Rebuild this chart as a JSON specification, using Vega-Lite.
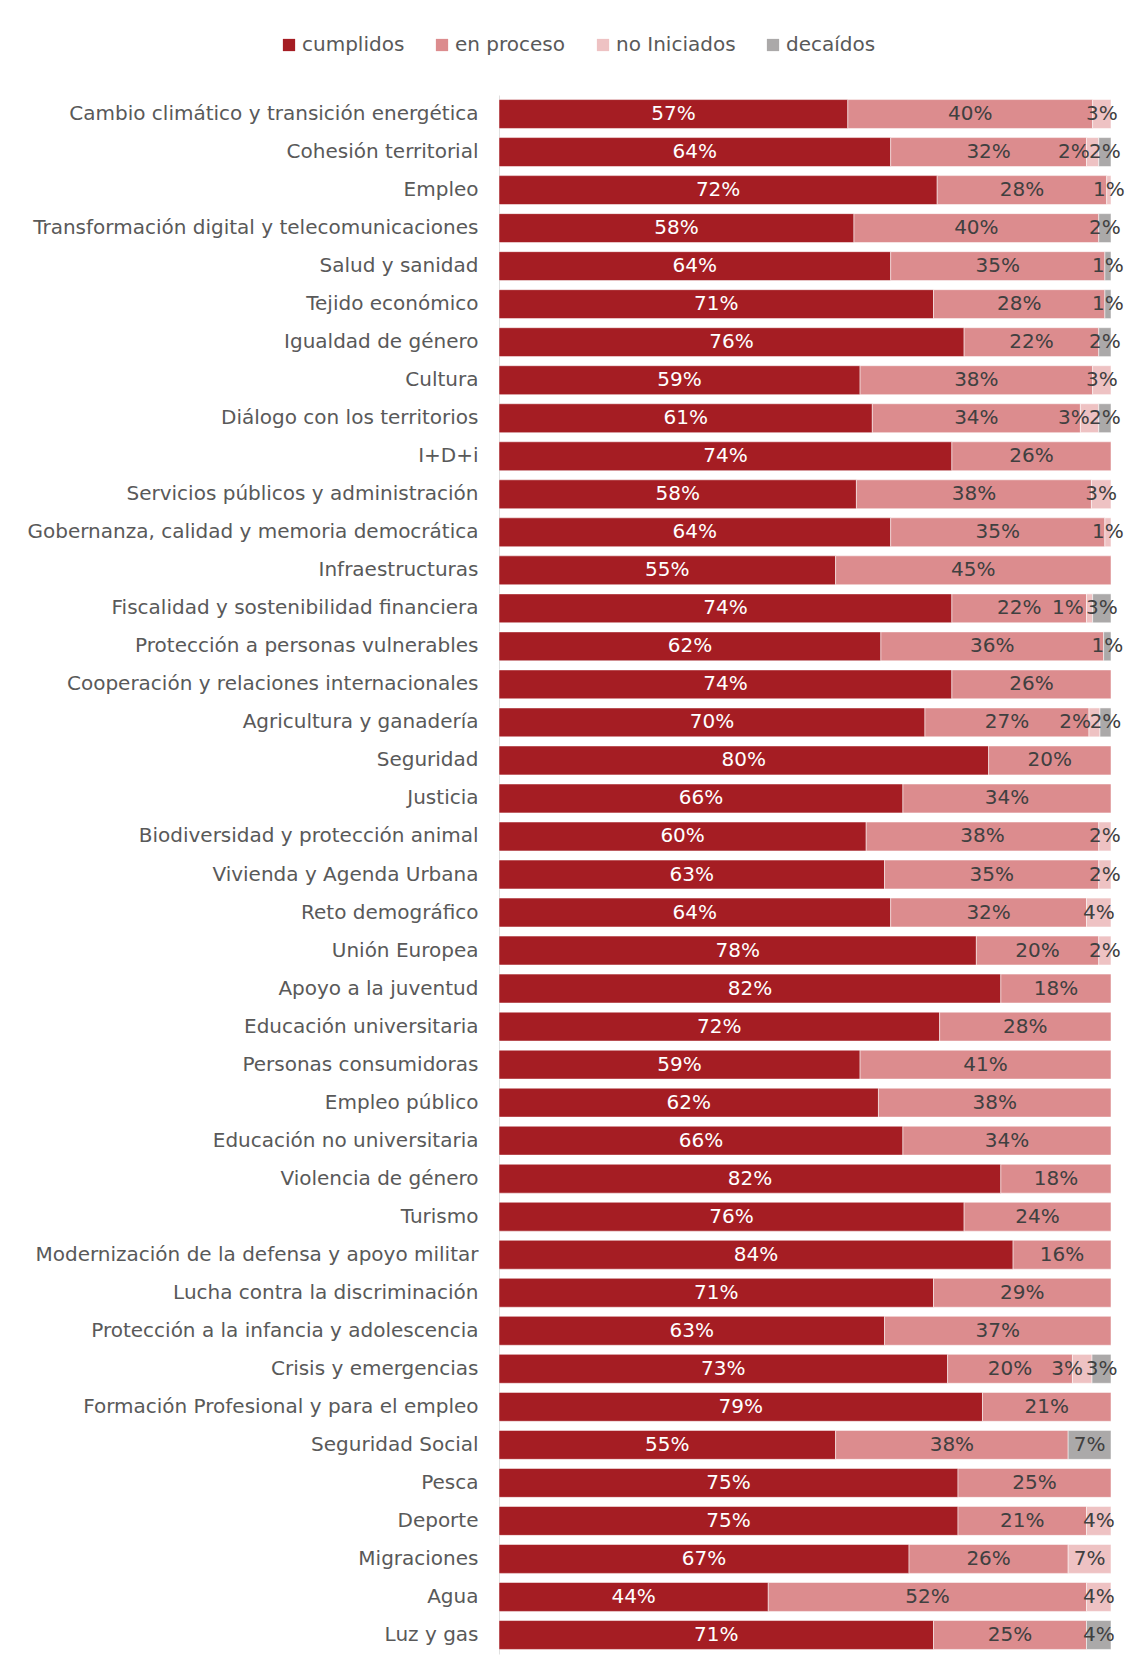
{
  "$schema": "https://vega.github.io/schema/vega-lite/v6.json",
  "autosize": {"type": "none"},
  "padding": {"left": 499, "top": 95, "right": 23, "bottom": 23},
  "width": 612,
  "height": 1559,
  "background": "white",
  "config": {
    "view": {"stroke": null},
    "font": "DejaVu Sans"
  },
  "data": {"values": [
    {"tema":"Cambio climático y transición energética","estado":"cumplidos","valor":0.57,"orden":1},
    {"tema":"Cambio climático y transición energética","estado":"en proceso","valor":0.40,"orden":2},
    {"tema":"Cambio climático y transición energética","estado":"no Iniciados","valor":0.03,"orden":3},
    {"tema":"Cohesión territorial","estado":"cumplidos","valor":0.64,"orden":1},
    {"tema":"Cohesión territorial","estado":"en proceso","valor":0.32,"orden":2},
    {"tema":"Cohesión territorial","estado":"no Iniciados","valor":0.02,"orden":3},
    {"tema":"Cohesión territorial","estado":"decaídos","valor":0.02,"orden":4},
    {"tema":"Empleo","estado":"cumplidos","valor":0.716,"orden":1},
    {"tema":"Empleo","estado":"en proceso","valor":0.277,"orden":2},
    {"tema":"Empleo","estado":"no Iniciados","valor":0.007,"orden":3},
    {"tema":"Transformación digital y telecomunicaciones","estado":"cumplidos","valor":0.58,"orden":1},
    {"tema":"Transformación digital y telecomunicaciones","estado":"en proceso","valor":0.40,"orden":2},
    {"tema":"Transformación digital y telecomunicaciones","estado":"decaídos","valor":0.02,"orden":4},
    {"tema":"Salud y sanidad","estado":"cumplidos","valor":0.64,"orden":1},
    {"tema":"Salud y sanidad","estado":"en proceso","valor":0.35,"orden":2},
    {"tema":"Salud y sanidad","estado":"decaídos","valor":0.01,"orden":4},
    {"tema":"Tejido económico","estado":"cumplidos","valor":0.71,"orden":1},
    {"tema":"Tejido económico","estado":"en proceso","valor":0.28,"orden":2},
    {"tema":"Tejido económico","estado":"decaídos","valor":0.01,"orden":4},
    {"tema":"Igualdad de género","estado":"cumplidos","valor":0.76,"orden":1},
    {"tema":"Igualdad de género","estado":"en proceso","valor":0.22,"orden":2},
    {"tema":"Igualdad de género","estado":"decaídos","valor":0.02,"orden":4},
    {"tema":"Cultura","estado":"cumplidos","valor":0.59,"orden":1},
    {"tema":"Cultura","estado":"en proceso","valor":0.38,"orden":2},
    {"tema":"Cultura","estado":"no Iniciados","valor":0.03,"orden":3},
    {"tema":"Diálogo con los territorios","estado":"cumplidos","valor":0.61,"orden":1},
    {"tema":"Diálogo con los territorios","estado":"en proceso","valor":0.34,"orden":2},
    {"tema":"Diálogo con los territorios","estado":"no Iniciados","valor":0.03,"orden":3},
    {"tema":"Diálogo con los territorios","estado":"decaídos","valor":0.02,"orden":4},
    {"tema":"I+D+i","estado":"cumplidos","valor":0.74,"orden":1},
    {"tema":"I+D+i","estado":"en proceso","valor":0.26,"orden":2},
    {"tema":"Servicios públicos y administración","estado":"cumplidos","valor":0.584,"orden":1},
    {"tema":"Servicios públicos y administración","estado":"en proceso","valor":0.384,"orden":2},
    {"tema":"Servicios públicos y administración","estado":"no Iniciados","valor":0.032,"orden":3},
    {"tema":"Gobernanza, calidad y memoria democrática","estado":"cumplidos","valor":0.64,"orden":1},
    {"tema":"Gobernanza, calidad y memoria democrática","estado":"en proceso","valor":0.35,"orden":2},
    {"tema":"Gobernanza, calidad y memoria democrática","estado":"no Iniciados","valor":0.01,"orden":3},
    {"tema":"Infraestructuras","estado":"cumplidos","valor":0.55,"orden":1},
    {"tema":"Infraestructuras","estado":"en proceso","valor":0.45,"orden":2},
    {"tema":"Fiscalidad y sostenibilidad financiera","estado":"cumplidos","valor":0.74,"orden":1},
    {"tema":"Fiscalidad y sostenibilidad financiera","estado":"en proceso","valor":0.22,"orden":2},
    {"tema":"Fiscalidad y sostenibilidad financiera","estado":"no Iniciados","valor":0.01,"orden":3},
    {"tema":"Fiscalidad y sostenibilidad financiera","estado":"decaídos","valor":0.03,"orden":4},
    {"tema":"Protección a personas vulnerables","estado":"cumplidos","valor":0.624,"orden":1},
    {"tema":"Protección a personas vulnerables","estado":"en proceso","valor":0.364,"orden":2},
    {"tema":"Protección a personas vulnerables","estado":"decaídos","valor":0.012,"orden":4},
    {"tema":"Cooperación y relaciones internacionales","estado":"cumplidos","valor":0.74,"orden":1},
    {"tema":"Cooperación y relaciones internacionales","estado":"en proceso","valor":0.26,"orden":2},
    {"tema":"Agricultura y ganadería","estado":"cumplidos","valor":0.696,"orden":1},
    {"tema":"Agricultura y ganadería","estado":"en proceso","valor":0.268,"orden":2},
    {"tema":"Agricultura y ganadería","estado":"no Iniciados","valor":0.018,"orden":3},
    {"tema":"Agricultura y ganadería","estado":"decaídos","valor":0.018,"orden":4},
    {"tema":"Seguridad","estado":"cumplidos","valor":0.80,"orden":1},
    {"tema":"Seguridad","estado":"en proceso","valor":0.20,"orden":2},
    {"tema":"Justicia","estado":"cumplidos","valor":0.66,"orden":1},
    {"tema":"Justicia","estado":"en proceso","valor":0.34,"orden":2},
    {"tema":"Biodiversidad y protección animal","estado":"cumplidos","valor":0.60,"orden":1},
    {"tema":"Biodiversidad y protección animal","estado":"en proceso","valor":0.38,"orden":2},
    {"tema":"Biodiversidad y protección animal","estado":"no Iniciados","valor":0.02,"orden":3},
    {"tema":"Vivienda y Agenda Urbana","estado":"cumplidos","valor":0.63,"orden":1},
    {"tema":"Vivienda y Agenda Urbana","estado":"en proceso","valor":0.35,"orden":2},
    {"tema":"Vivienda y Agenda Urbana","estado":"no Iniciados","valor":0.02,"orden":3},
    {"tema":"Reto demográfico","estado":"cumplidos","valor":0.64,"orden":1},
    {"tema":"Reto demográfico","estado":"en proceso","valor":0.32,"orden":2},
    {"tema":"Reto demográfico","estado":"no Iniciados","valor":0.04,"orden":3},
    {"tema":"Unión Europea","estado":"cumplidos","valor":0.78,"orden":1},
    {"tema":"Unión Europea","estado":"en proceso","valor":0.20,"orden":2},
    {"tema":"Unión Europea","estado":"no Iniciados","valor":0.02,"orden":3},
    {"tema":"Apoyo a la juventud","estado":"cumplidos","valor":0.82,"orden":1},
    {"tema":"Apoyo a la juventud","estado":"en proceso","valor":0.18,"orden":2},
    {"tema":"Educación universitaria","estado":"cumplidos","valor":0.72,"orden":1},
    {"tema":"Educación universitaria","estado":"en proceso","valor":0.28,"orden":2},
    {"tema":"Personas consumidoras","estado":"cumplidos","valor":0.59,"orden":1},
    {"tema":"Personas consumidoras","estado":"en proceso","valor":0.41,"orden":2},
    {"tema":"Empleo público","estado":"cumplidos","valor":0.62,"orden":1},
    {"tema":"Empleo público","estado":"en proceso","valor":0.38,"orden":2},
    {"tema":"Educación no universitaria","estado":"cumplidos","valor":0.66,"orden":1},
    {"tema":"Educación no universitaria","estado":"en proceso","valor":0.34,"orden":2},
    {"tema":"Violencia de género","estado":"cumplidos","valor":0.82,"orden":1},
    {"tema":"Violencia de género","estado":"en proceso","valor":0.18,"orden":2},
    {"tema":"Turismo","estado":"cumplidos","valor":0.76,"orden":1},
    {"tema":"Turismo","estado":"en proceso","valor":0.24,"orden":2},
    {"tema":"Modernización de la defensa y apoyo militar","estado":"cumplidos","valor":0.84,"orden":1},
    {"tema":"Modernización de la defensa y apoyo militar","estado":"en proceso","valor":0.16,"orden":2},
    {"tema":"Lucha contra la discriminación","estado":"cumplidos","valor":0.71,"orden":1},
    {"tema":"Lucha contra la discriminación","estado":"en proceso","valor":0.29,"orden":2},
    {"tema":"Protección a la infancia y adolescencia","estado":"cumplidos","valor":0.63,"orden":1},
    {"tema":"Protección a la infancia y adolescencia","estado":"en proceso","valor":0.37,"orden":2},
    {"tema":"Crisis y emergencias","estado":"cumplidos","valor":0.733,"orden":1},
    {"tema":"Crisis y emergencias","estado":"en proceso","valor":0.204,"orden":2},
    {"tema":"Crisis y emergencias","estado":"no Iniciados","valor":0.032,"orden":3},
    {"tema":"Crisis y emergencias","estado":"decaídos","valor":0.031,"orden":4},
    {"tema":"Formación Profesional y para el empleo","estado":"cumplidos","valor":0.79,"orden":1},
    {"tema":"Formación Profesional y para el empleo","estado":"en proceso","valor":0.21,"orden":2},
    {"tema":"Seguridad Social","estado":"cumplidos","valor":0.55,"orden":1},
    {"tema":"Seguridad Social","estado":"en proceso","valor":0.38,"orden":2},
    {"tema":"Seguridad Social","estado":"decaídos","valor":0.07,"orden":4},
    {"tema":"Pesca","estado":"cumplidos","valor":0.75,"orden":1},
    {"tema":"Pesca","estado":"en proceso","valor":0.25,"orden":2},
    {"tema":"Deporte","estado":"cumplidos","valor":0.75,"orden":1},
    {"tema":"Deporte","estado":"en proceso","valor":0.21,"orden":2},
    {"tema":"Deporte","estado":"no Iniciados","valor":0.04,"orden":3},
    {"tema":"Migraciones","estado":"cumplidos","valor":0.67,"orden":1},
    {"tema":"Migraciones","estado":"en proceso","valor":0.26,"orden":2},
    {"tema":"Migraciones","estado":"no Iniciados","valor":0.07,"orden":3},
    {"tema":"Agua","estado":"cumplidos","valor":0.44,"orden":1},
    {"tema":"Agua","estado":"en proceso","valor":0.52,"orden":2},
    {"tema":"Agua","estado":"no Iniciados","valor":0.04,"orden":3},
    {"tema":"Luz y gas","estado":"cumplidos","valor":0.71,"orden":1},
    {"tema":"Luz y gas","estado":"en proceso","valor":0.25,"orden":2},
    {"tema":"Luz y gas","estado":"decaídos","valor":0.04,"orden":4}
  ]},
  "encoding": {
    "y": {
      "field": "tema", "type": "nominal", "sort": null,
      "scale": {"paddingInner": 0.24, "paddingOuter": 0.12},
      "axis": {
        "title": null, "ticks": false, "domain": true, "domainColor": "#e0e0e0",
        "labelFontSize": 20, "labelColor": "#595959", "labelPadding": 21,
        "labelFont": "DejaVu Sans", "labelLimit": 500
      }
    }
  },
  "layer": [
    {
      "mark": {"type": "bar", "stroke": "white", "strokeWidth": 0.5},
      "encoding": {
        "x": {
          "field": "valor", "type": "quantitative", "stack": "zero",
          "scale": {"domain": [0, 1], "nice": false}, "axis": null
        },
        "color": {
          "field": "estado", "type": "nominal",
          "scale": {
            "domain": ["cumplidos", "en proceso", "no Iniciados", "decaídos"],
            "range": ["#A51D23", "#DC8C8E", "#EEC2C3", "#ABA9A9"]
          },
          "legend": {
            "title": null, "orient": "none", "direction": "horizontal",
            "legendX": -220, "legendY": -60,
            "symbolType": "square", "symbolSize": 150, "symbolStrokeWidth": 0,
            "labelFontSize": 20, "labelColor": "#595959", "labelFont": "DejaVu Sans",
            "labelOffset": 3, "columnPadding": 27
          }
        },
        "order": {"field": "orden", "type": "quantitative"}
      }
    },
    {
      "mark": {"type": "text", "fontSize": 20, "font": "DejaVu Sans", "baseline": "middle", "align": "center"},
      "encoding": {
        "x": {"field": "valor", "type": "quantitative", "stack": "zero", "bandPosition": 0.5},
        "detail": {"field": "estado"},
        "order": {"field": "orden", "type": "quantitative"},
        "text": {
          "condition": {
            "test": "!(datum.estado === 'no Iniciados' && indexof(['Cohesión territorial','Diálogo con los territorios','Fiscalidad y sostenibilidad financiera','Agricultura y ganadería','Crisis y emergencias'], datum.tema) >= 0)",
            "field": "valor", "type": "quantitative", "format": ".0%"
          },
          "value": ""
        },
        "color": {
          "condition": {"test": "datum.estado === 'cumplidos'", "value": "white"},
          "value": "#404040"
        }
      }
    },
    {
      "mark": {"type": "text", "fontSize": 20, "font": "DejaVu Sans", "baseline": "middle", "align": "right", "dx": -9, "color": "#404040"},
      "encoding": {
        "x": {"field": "valor", "type": "quantitative", "stack": "zero", "bandPosition": 1},
        "detail": {"field": "estado"},
        "order": {"field": "orden", "type": "quantitative"},
        "text": {
          "condition": {
            "test": "datum.estado === 'no Iniciados' && indexof(['Cohesión territorial','Diálogo con los territorios','Fiscalidad y sostenibilidad financiera','Agricultura y ganadería','Crisis y emergencias'], datum.tema) >= 0",
            "field": "valor", "type": "quantitative", "format": ".0%"
          },
          "value": ""
        }
      }
    }
  ]
}
